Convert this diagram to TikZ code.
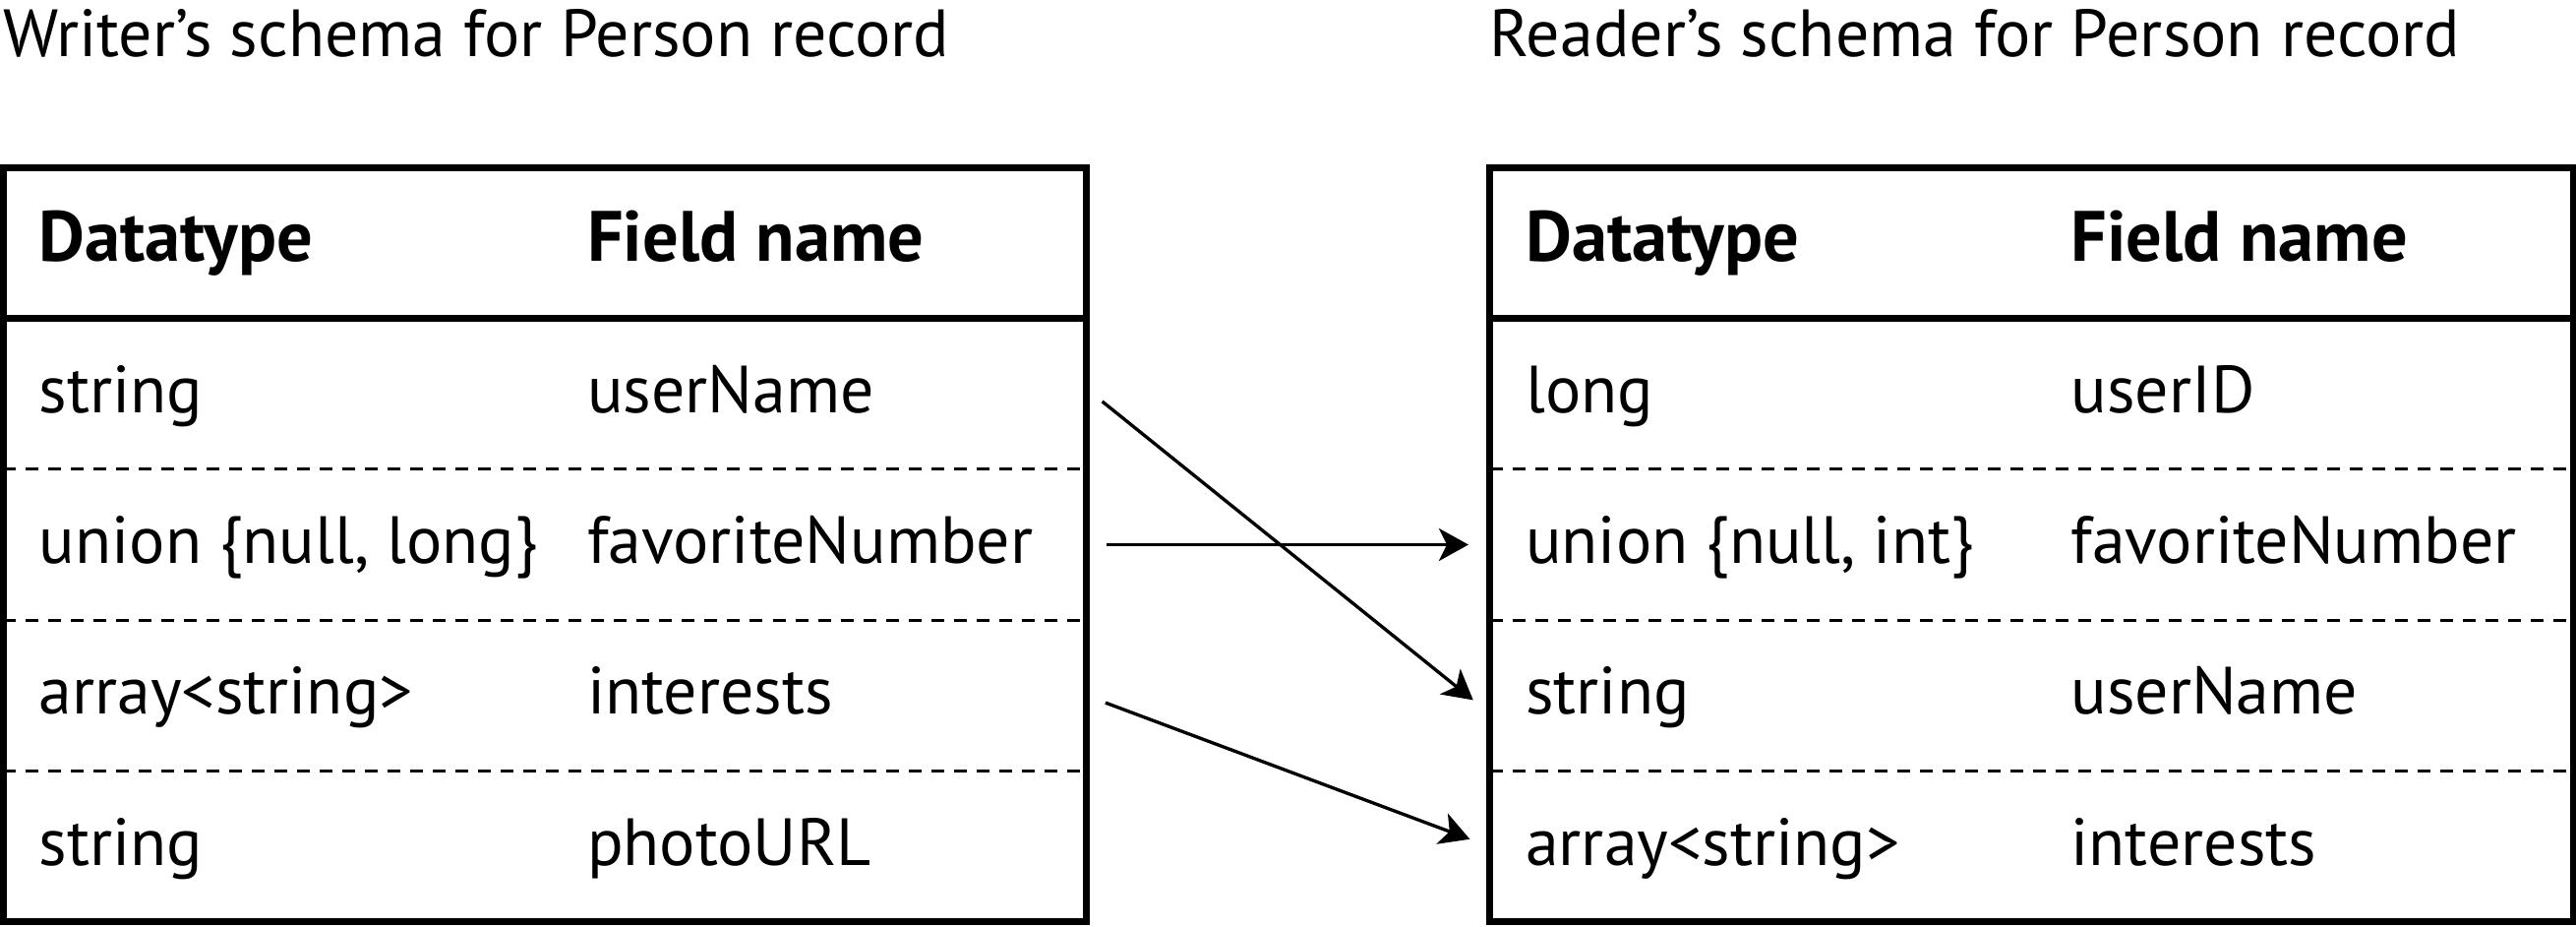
\documentclass[tikz,border=0pt]{standalone}
\usepackage{fontspec}
\setmainfont{PT Sans}
\usetikzlibrary{positioning,arrows.meta,calc}

\newcommand{\headfont}{\fontsize{20.6}{24}\selectfont\bfseries}

\begin{document}
\begin{tikzpicture}[
  x=0.01cm, y=-0.01cm,
  font=\fontsize{19.3}{24}\selectfont,
  row/.style={minimum width=11.01cm, minimum height=1.533cm, inner sep=0pt, outer sep=0pt},
  cell/.style={inner sep=0pt, text height=15pt, text depth=4.2pt},
  caption/.style={inner sep=0pt, anchor=base west, font=\fontsize{19.3}{24}\selectfont},
  frame/.style={line width=2pt},
  sep/.style={line width=0.85pt, dash pattern=on 0.13cm off 0.1cm},
  link/.style={-{Stealth[length=0.3cm, width=0.33cm, inset=0.08cm]}, line width=0.95pt,
    shorten <=0.205cm, shorten >=0.215cm}
]
\useasboundingbox (0,0) rectangle (2619,941);

% Writer's schema
\node[caption] (wTitle) at (3,57) {Writer’s schema for Person record};
\node[row, anchor=north west] (w0) at (3,170) {};
\node[row, below=0pt of w0] (w1) {};
\node[row, below=0pt of w1] (w2) {};
\node[row, below=0pt of w2] (w3) {};
\node[row, below=0pt of w3] (w4) {};

\draw[frame] (w0.north west) rectangle (w4.south east);
\draw[frame] (w0.south west) -- (w0.south east);
\foreach \i in {1,2,3}
  \draw[sep] (w\i.south west) -- (w\i.south east);

\node[cell, right=0.36cm of w0.west] (w0a) {\headfont Datatype};
\node[cell, right=5.93cm of w0.west] (w0b) {\headfont Field name};
\node[cell, right=0.36cm of w1.west] (w1a) {string};
\node[cell, right=5.93cm of w1.west] (w1b) {userName};
\node[cell, right=0.36cm of w2.west] (w2a) {union \{null, long\}};
\node[cell, right=5.93cm of w2.west] (w2b) {favoriteNumber};
\node[cell, right=0.36cm of w3.west] (w3a) {array<string>};
\node[cell, right=5.93cm of w3.west] (w3b) {interests};
\node[cell, right=0.36cm of w4.west] (w4a) {string};
\node[cell, right=5.93cm of w4.west] (w4b) {photoURL};

% Reader's schema
\node[caption] (rTitle) at (1514,57) {Reader’s schema for Person record};
\node[row, anchor=north west] (r0) at (1514.5,170) {};
\node[row, below=0pt of r0] (r1) {};
\node[row, below=0pt of r1] (r2) {};
\node[row, below=0pt of r2] (r3) {};
\node[row, below=0pt of r3] (r4) {};

\draw[frame] (r0.north west) rectangle (r4.south east);
\draw[frame] (r0.south west) -- (r0.south east);
\foreach \i in {1,2,3}
  \draw[sep] (r\i.south west) -- (r\i.south east);

\node[cell, right=0.36cm of r0.west] (r0a) {\headfont Datatype};
\node[cell, right=5.9cm of r0.west] (r0b) {\headfont Field name};
\node[cell, right=0.36cm of r1.west] (r1a) {long};
\node[cell, right=5.9cm of r1.west] (r1b) {userID};
\node[cell, right=0.36cm of r2.west] (r2a) {union \{null, int\}};
\node[cell, right=5.9cm of r2.west] (r2b) {favoriteNumber};
\node[cell, right=0.36cm of r3.west] (r3a) {string};
\node[cell, right=5.9cm of r3.west] (r3b) {userName};
\node[cell, right=0.36cm of r4.west] (r4a) {array<string>};
\node[cell, right=5.9cm of r4.west] (r4b) {interests};

% Field resolution
\draw[link] ($(w1.east)+(0,-5)$) -- ($(r3.west)+(0,18)$);
\draw[link] (w2.east) -- (r2.west);
\draw[link] (w3.east) -- (r4.west);

\end{tikzpicture}
\end{document}
